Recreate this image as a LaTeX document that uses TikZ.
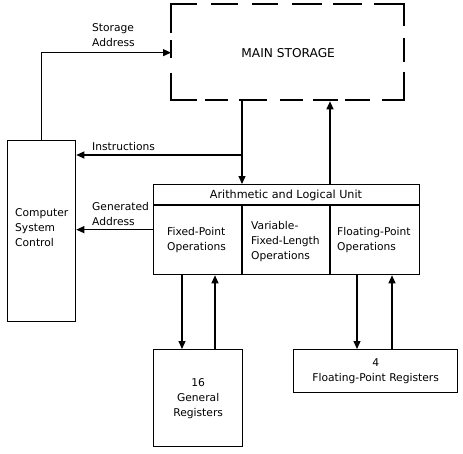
\documentclass[tikz,border=0pt]{standalone}
\usepackage{fontspec}
\setmainfont{DejaVu Sans}
\usetikzlibrary{arrows.meta}
\begin{document}
\begin{tikzpicture}[x=1pt,y=-1pt,
  box/.style={draw,line width=1.3pt,inner sep=0pt,anchor=north west},
  dsh/.style={line width=1.3pt},
  lbl/.style={font=\fontsize{10.7}{15}\selectfont,align=left,inner sep=0pt},
  ctr/.style={font=\fontsize{10.7}{15}\selectfont,align=center,inner sep=0pt},
  arr/.style={line width=1.2pt,-{Triangle[length=8pt,width=7pt]}}]
\useasboundingbox (0,0) rectangle (463,453);
% main storage (dashed outline)
\node[box,draw=none,minimum width=233pt,minimum height=96pt] (ms) at (171,4) {};
\draw[dsh] (171,33) -- (171,4) -- (197,4);
\draw[dsh] (211,4) -- (238,4) (252,4) -- (278,4) (292,4) -- (322,4) (333,4) -- (362,4);
\draw[dsh] (374,4) -- (404,4) -- (404,26);
\draw[dsh] (404,38) -- (404,62);
\draw[dsh] (404,72) -- (404,100) -- (382,100);
\draw[dsh] (370,100) -- (345,100) (338,100) -- (313,100) (303,100) -- (280,100) (267,100) -- (239,100) (228,100) -- (205,100);
\draw[dsh] (197,100) -- (171,100) -- (171,73);
\draw[dsh] (171,58) -- (171,40);
\node[ctr,font=\fontsize{12.2}{15}\selectfont] (mst) at (ms.center) {MAIN STORAGE};
% other boxes
\node[box,minimum width=68pt,minimum height=181pt] (csc) at (7,140) {};
\node[lbl,anchor=west] (csct) at (15,228) {Computer\\System\\Control};
\node[box,minimum width=266pt,minimum height=90pt] (alu) at (153,184) {};
\coordinate (hl) at (153,205);
\coordinate (hr) at (419,205);
\draw[line width=1.3pt] (hl) -- (hr);
\coordinate (d1) at (242,205);
\coordinate (d2) at (330,205);
\draw[line width=1.3pt] (d1) -- (d1 |- alu.south);
\draw[line width=1.3pt] (d2) -- (d2 |- alu.south);
\node[ctr,font=\fontsize{11.2}{15}\selectfont] (alut) at (286,195) {Arithmetic and Logical Unit};
\node[lbl,anchor=west] (fx) at (167,240) {Fixed-Point\\Operations};
\node[lbl,anchor=west] (vf) at (251,242) {Variable-\\Fixed-Length\\Operations};
\node[lbl,anchor=west] (fp) at (337,240) {Floating-Point\\Operations};
\node[box,minimum width=89pt,minimum height=97pt] (gr) at (153,349) {};
\node[ctr] (grt) at (gr.center) {16\\General\\Registers};
\node[box,minimum width=164pt,minimum height=43pt] (fr) at (293,349) {};
\node[ctr] (frt) at (fr.center) {4\\Floating-Point Registers};
% labels
\node[lbl,anchor=west] (sa) at (92,35) {Storage\\Address};
\node[lbl,anchor=west] (ins) at (92,147) {Instructions};
\node[lbl,anchor=west] (ga) at (92,214) {Generated\\Address};
% connectors
\draw[arr] (csc.north) |- (ms.west);
\coordinate (x1) at (242,0);
\coordinate (j1) at (242,155);
\draw[arr] (x1 |- ms.south) -- (x1 |- alu.north);
\draw[arr] (j1) -- (j1 -| csc.east);
\coordinate (x2) at (330,0);
\draw[arr] (x2 |- alu.north) -- (x2 |- ms.south);
\draw[arr] (alu.west) -- (alu.west -| csc.east);
\coordinate (x3) at (182,0);
\coordinate (x4) at (215,0);
\coordinate (x5) at (357,0);
\coordinate (x6) at (392,0);
\draw[arr] (x3 |- alu.south) -- (x3 |- gr.north);
\draw[arr] (x4 |- gr.north) -- (x4 |- alu.south);
\draw[arr] (x5 |- alu.south) -- (x5 |- fr.north);
\draw[arr] (x6 |- fr.north) -- (x6 |- alu.south);
\end{tikzpicture}
\end{document}
